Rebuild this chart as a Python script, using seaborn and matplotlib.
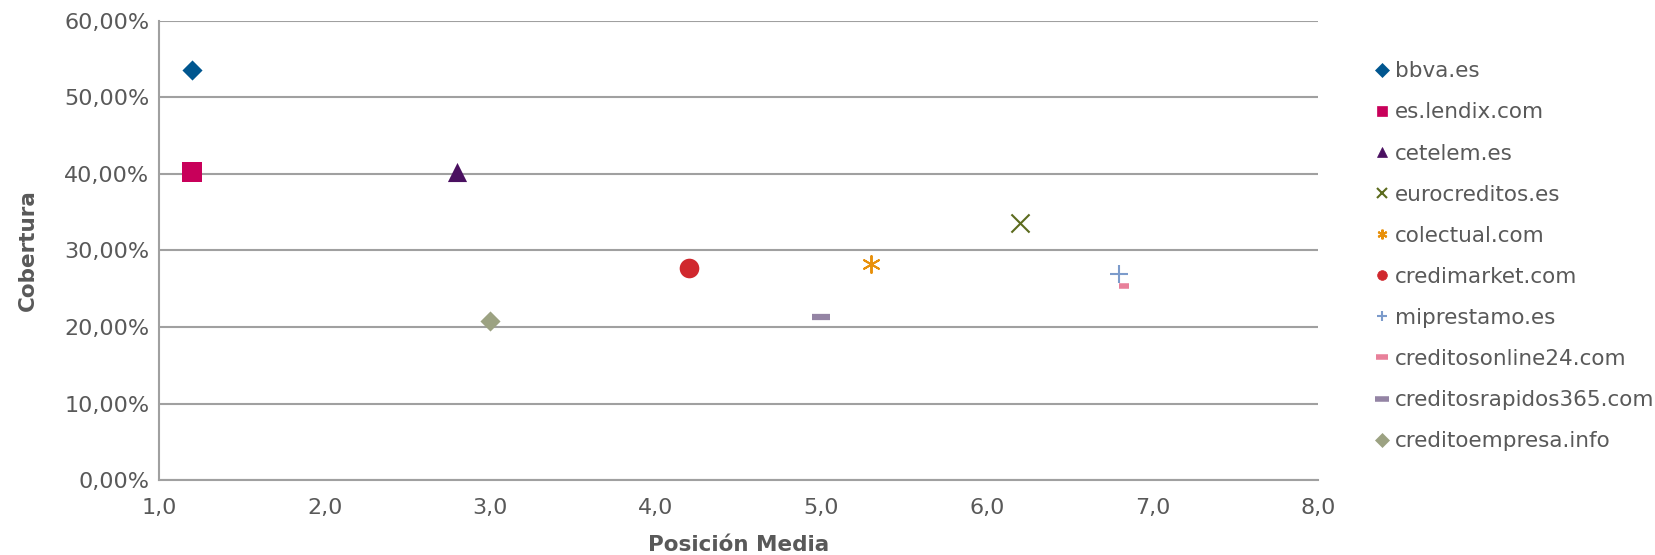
import matplotlib
matplotlib.use("Agg")
import matplotlib.pyplot as plt
from matplotlib.lines import Line2D
from matplotlib.ticker import FuncFormatter, MultipleLocator
import seaborn as sns

# datos
dominios = ['bbva.es', 'es.lendix.com', 'cetelem.es', 'eurocreditos.es', 'colectual.com',
            'credimarket.com', 'miprestamo.es', 'creditosonline24.com',
            'creditosrapidos365.com', 'creditoempresa.info']
posicion_media = [1.2, 1.2, 2.8, 6.2, 5.3, 4.2, 6.8, 6.83, 5.0, 3.0]
cobertura = [0.536, 0.402, 0.402, 0.336, 0.282, 0.277, 0.269, 0.254, 0.213, 0.208]

colores = ['#00568F', '#C8005A', '#4A1060', '#5C6B1E', '#E8900A',
           '#D0282E', '#7C9BCB', '#E8809A', '#9484A4', '#9CA282']
marcadores = ['D', 's', '^', 'x', (6, 2, 0), 'o', '+', '_', '_', 'D']
tamanos = [105, 200, 190, 170, 150, 200, 170, 45, 150, 105]
grosores = [0, 0, 0, 1.5, 1.4, 0, 1.5, 4.0, 4.5, 0]

sns.set_theme(style='white')
plt.rcParams['font.family'] = ['DejaVu Sans']
gris = '#595959'

fig = plt.figure(figsize=(16.55, 5.55), dpi=100)
ax = fig.add_axes([0.0961, 0.1351, 0.7003, 0.8271])

for d, x, y, c, m, s, lw in zip(dominios, posicion_media, cobertura, colores,
                                marcadores, tamanos, grosores):
    sns.scatterplot(x=[x], y=[y], ax=ax, color=c, marker=m, s=s,
                    linewidth=lw, edgecolor=c if lw == 0 else None, zorder=3)

ax.set_xlim(1.0, 8.0)
ax.set_ylim(0, 0.6)
ax.xaxis.set_major_locator(MultipleLocator(1.0))
ax.yaxis.set_major_locator(MultipleLocator(0.1))
ax.xaxis.set_major_formatter(FuncFormatter(lambda v, p: f'{v:.1f}'.replace('.', ',')))
ax.yaxis.set_major_formatter(FuncFormatter(lambda v, p: f'{v*100:.2f}%'.replace('.', ',')))

ax.grid(axis='y', color='#A0A0A0', linewidth=1.5)
ax.set_axisbelow(True)
for lado in ['top', 'right']:
    ax.spines[lado].set_visible(False)
for lado in ['left', 'bottom']:
    ax.spines[lado].set_color('#A0A0A0')
    ax.spines[lado].set_linewidth(1.5)

ax.tick_params(axis='both', length=0, labelsize=16, labelcolor=gris)
ax.tick_params(axis='x', pad=13)
ax.tick_params(axis='y', pad=7)

ax.set_xlabel('Posición Media', fontsize=15.5, fontweight='bold', color=gris, labelpad=12)
ax.set_ylabel('Cobertura', fontsize=15.5, fontweight='bold', color=gris, labelpad=19)

# leyenda con marcadores pequeños
handles = []
for d, c, m, lw in zip(dominios, colores, marcadores, grosores):
    ms = 7
    mew = 1.5
    if m == '_':
        ms = 8 if d == 'creditosonline24.com' else 10
        mew = 4
    handles.append(Line2D([], [], linestyle='none', marker=m, color=c,
                          markerfacecolor=c, markeredgecolor=c,
                          markersize=ms, markeredgewidth=mew if lw else 0.5))

leg = ax.legend(handles, dominios, loc='upper left', bbox_to_anchor=(0.826, 0.905),
                bbox_transform=fig.transFigure, frameon=False, fontsize=15.5,
                labelspacing=0.98, handlelength=0.6, handletextpad=0.3,
                borderaxespad=0)
for t in leg.get_texts():
    t.set_color(gris)

fig.savefig('out.png', dpi=100)
